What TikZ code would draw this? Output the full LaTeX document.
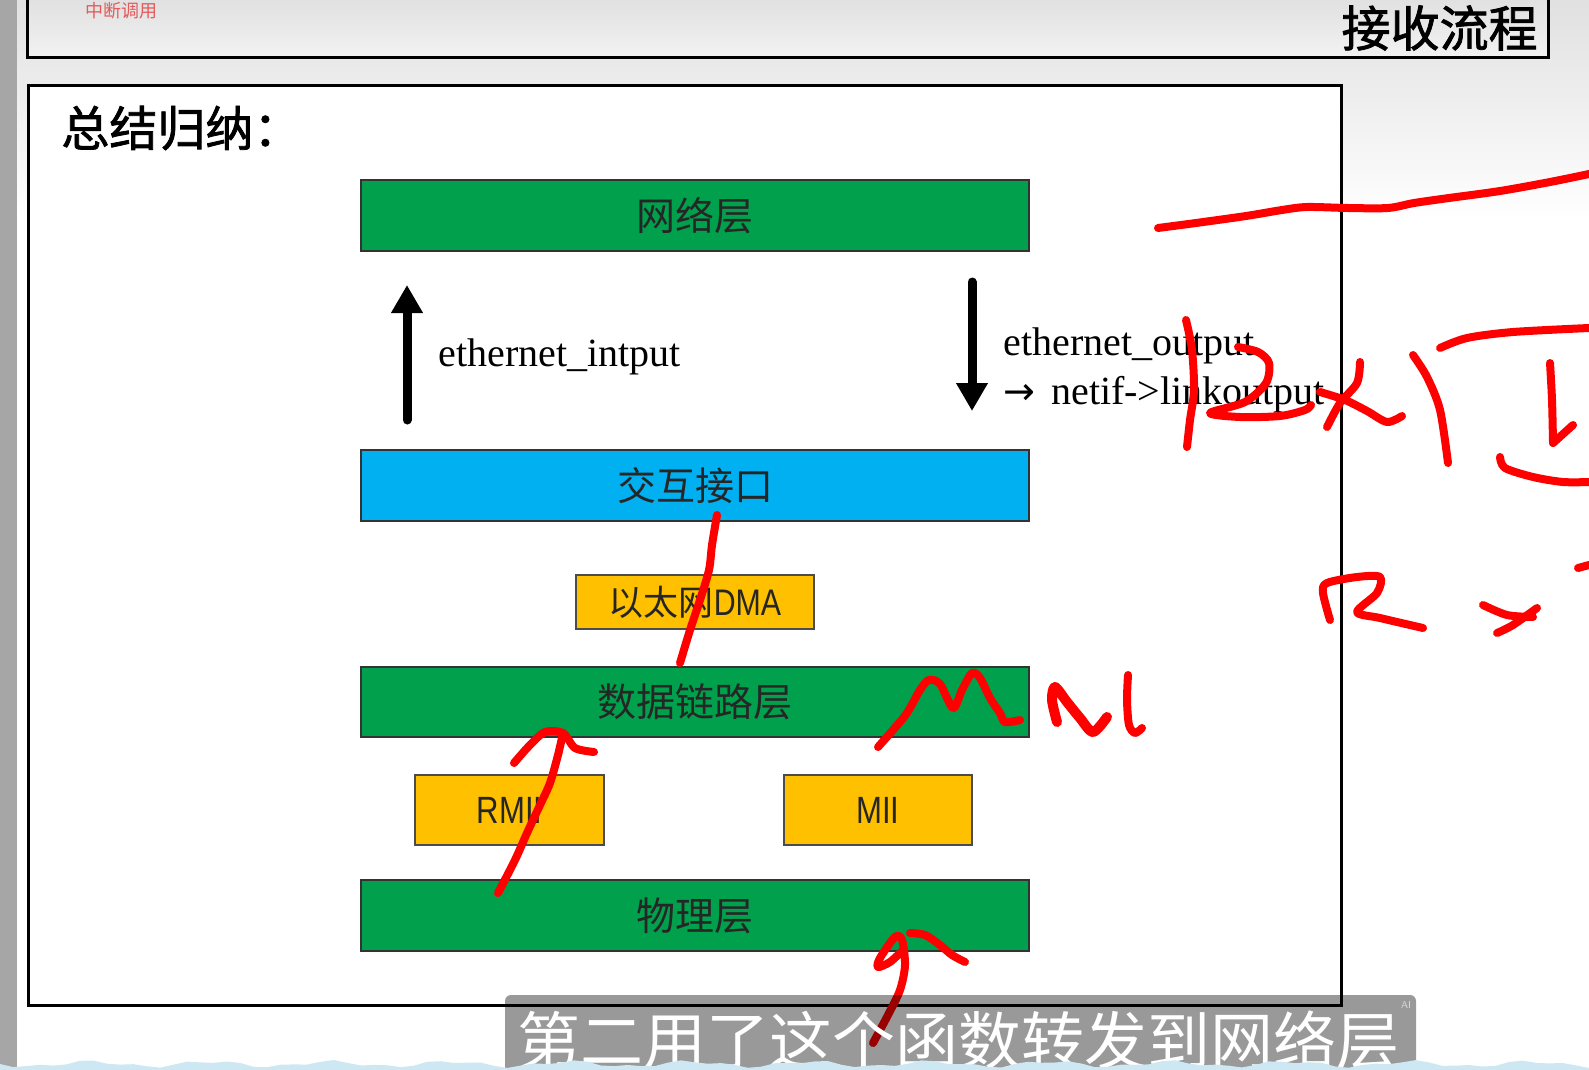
\documentclass[tikz,border=0pt]{standalone}
\usepackage{fontspec}
\setmainfont{Liberation Serif}
\newfontfamily\cjk{Noto Sans CJK SC}
\newfontfamily\cjkmid{Noto Sans CJK SC}[FakeBold=1.6]
\newfontfamily\narrowsans{Liberation Sans}[FakeStretch=0.82]
\newfontfamily\symfont{DejaVu Sans}
\usetikzlibrary{arrows.meta}
\definecolor{layergreen}{RGB}{0,160,76}
\definecolor{ifaceblue}{RGB}{0,176,240}
\definecolor{chipyellow}{RGB}{255,192,0}
\definecolor{inkred}{RGB}{255,0,0}
\definecolor{noteRed}{RGB}{228,90,90}
\definecolor{waveblue}{RGB}{205,232,242}

\begin{document}
\begin{tikzpicture}[x=0.5pt,y=-0.5pt,
  layerbox/.style={draw=black!80, line width=0.7pt, fill=layergreen,
    minimum width=334pt, minimum height=35.5pt, inner sep=0pt, text=black!85,
    font=\cjk\fontsize{19.5pt}{20pt}\selectfont},
  ifacebox/.style={layerbox, fill=ifaceblue},
  chipbox/.style={draw=black!70, line width=0.7pt, fill=chipyellow,
    inner sep=0pt, text=black!85},
  flowarrow/.style={line width=4.5pt, line cap=round,
    -{Triangle[width=15pt,length=14pt]}},
  redpen/.style={draw=inkred, line width=4pt, line cap=round, line join=round},
  fnlabel/.style={font=\fontsize{20pt}{24pt}\selectfont, inner sep=0pt,
    anchor=base west},
]
\useasboundingbox (0,0) rectangle (1589,1070);

% slide background
\fill[white] (0,0) rectangle (1589,1070);
\shade[top color=black!12, bottom color=white] (17,0) rectangle (1589,220);
\fill[black!35] (0,0) rectangle (17,1070);

% header band
\shadedraw[top color=black!13, bottom color=black!5, draw=black, line width=1.5pt]
  (27,-10) rectangle (1548,58);
\node[text=noteRed, inner sep=0pt, font=\cjk\fontsize{9pt}{10pt}\selectfont]
  (note) at (121,11) {中断调用};
\node[anchor=east, inner sep=0pt, font=\cjkmid\fontsize{24.5pt}{25pt}\selectfont]
  (title) at (1538,28) {接收流程};

% content frame
\draw[line width=1.5pt, fill=white] (28,86) rectangle (1341,1005);
\node[anchor=west, inner sep=0pt, font=\cjkmid\fontsize{24pt}{25pt}\selectfont]
  (summary) at (61,128) {总结归纳：};

% protocol layers
\node[layerbox] (net) at (695,215.5) {网络层};
\node[ifacebox] (iface) at (695,485.5) {交互接口};
\node[chipbox, minimum width=119pt, minimum height=27pt] (dma) at (695,602)
  {{\cjk\fontsize{17.5pt}{18pt}\selectfont 以太网}{\narrowsans\fontsize{18.5pt}{19pt}\selectfont DMA}};
\node[layerbox, minimum height=35pt] (link) at (695,702) {数据链路层};
\node[chipbox, minimum width=94.5pt, minimum height=35pt,
  font=\narrowsans\fontsize{19pt}{19pt}\selectfont] (rmii) at (509.5,810) {RMII};
\node[chipbox, minimum width=94pt, minimum height=35pt,
  font=\narrowsans\fontsize{19pt}{19pt}\selectfont] (mii) at (878,810) {MII};
\node[layerbox] (phy) at (695,915.5) {物理层};

% receive / send arrows
\coordinate (inTail) at (407,420);
\coordinate (inHead) at (407,285);
\draw[flowarrow] (inTail) -- (inHead);
\node[fnlabel] (fnin) at (438,366) {ethernet\_intput};

\coordinate (outTail) at (972,282);
\coordinate (outHead) at (972,411);
\draw[flowarrow] (outTail) -- (outHead);
\node[fnlabel] (fnout) at (1003,355) {ethernet\_output};
\node[fnlabel] (fnlink) at (1003,404)
  {{\symfont\fontsize{19pt}{19pt}\selectfont →}\hspace{8pt}netif->linkoutput};

% pen annotations
\draw[redpen] plot[smooth] coordinates {(1158,228) (1196,223) (1246,216) (1282,210)
  (1307,207) (1348,208) (1388,208) (1414,203) (1449,198) (1500,191) (1550,182) (1589,174)};
\draw[redpen] plot[smooth] coordinates {(1186,320) (1192,350) (1194,390) (1190,420) (1187,447)};
\draw[redpen] plot[smooth] coordinates {(1238,347) (1258,352) (1269,363) (1266,383)
  (1245,402) (1210,413) (1240,417) (1280,416) (1305,410) (1311,405)};
\draw[redpen] plot[smooth] coordinates {(1360,362) (1357,383) (1340,403) (1327,427)};
\draw[redpen] plot[smooth] coordinates {(1320,392) (1345,400) (1367,411) (1387,422) (1402,416)};
\draw[redpen] plot[smooth] coordinates {(1413,355) (1427,377) (1440,410) (1448,463)};
\draw[redpen] plot[smooth] coordinates {(1440,348) (1467,338) (1513,332) (1589,328)};
\draw[redpen] plot[smooth] coordinates {(1550,363) (1552,400) (1553,443)};
\draw[redpen] (1553,443) -- (1573,425);
\draw[redpen] plot[smooth] coordinates {(1500,457) (1505,468) (1533,477) (1563,482) (1589,482)};
\draw[redpen] plot[smooth] coordinates {(1330,620) (1323,593) (1327,583) (1357,577)
  (1380,577) (1377,593) (1357,612) (1380,618) (1423,628)};
\draw[redpen] plot[smooth] coordinates {(1483,605) (1507,615) (1533,617)};
\draw[redpen] plot[smooth] coordinates {(1537,608) (1513,625) (1497,633)};
\draw[redpen] (1578,568) -- (1589,565);

\draw[redpen] plot[smooth] coordinates {(878,747) (893,730) (907,713) (920,690) (929,680)
  (940,684) (953,708) (962,690) (972,673) (980,678) (990,698) (1000,713) (1005,722) (1020,720)};
\draw[redpen, line width=5pt] plot[smooth] coordinates {(1057,722) (1052,700) (1055,687)
  (1067,702) (1080,718) (1093,732) (1107,717)};
\draw[redpen] plot[smooth] coordinates {(1128,675) (1127,700) (1129,725) (1135,733) (1142,728)};

\draw[redpen] plot[smooth] coordinates {(717,515) (712,545) (709,570) (700,600) (690,630) (680,663)};
\draw[redpen] plot[smooth] coordinates {(498,893) (515,860) (527,833) (540,805) (550,783)
  (558,755) (563,733)};
\draw[redpen] plot[smooth] coordinates {(514,763) (530,745) (545,732) (563,733) (575,748) (594,752)};

\draw[redpen] plot[smooth] coordinates {(873,1043) (888,1015) (900,990) (905,965) (902,940)
  (895,937) (880,958) (878,967) (890,962) (903,950)};
\draw[redpen] plot[smooth] coordinates {(910,933) (925,935) (940,945) (952,955) (965,962)};

% caption bar
\fill[black, opacity=0.4, rounded corners=3pt] (505,995) rectangle (1416,1080);
\node[text=white, inner sep=0pt, font=\cjk\fontsize{31.5pt}{32pt}\selectfont]
  (caption) at (958,1040) {第二用了这个函数转发到网络层};
\node[text=white, opacity=0.6, inner sep=0pt, font=\sffamily\fontsize{5pt}{5pt}\selectfont]
  (ailabel) at (1406,1005) {AI};

% wavy strip along the bottom edge
\fill[waveblue] (0,1070) -- plot[domain=0:1589, samples=120]
  (\x,{1064+2.5*sin(\x*3)+1.5*sin(\x*7.3)}) -- (1589,1070) -- cycle;
\end{tikzpicture}
\end{document}
